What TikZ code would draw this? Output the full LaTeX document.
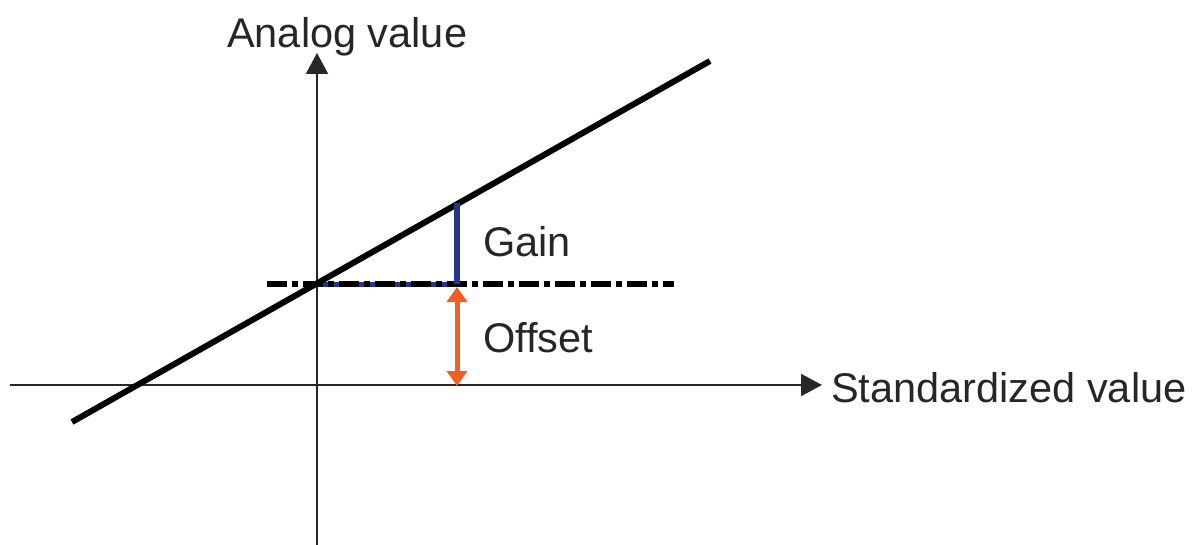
\documentclass[tikz,border=0pt]{standalone}
\usepackage{fontspec}
\setmainfont{Liberation Sans}
\usetikzlibrary{arrows.meta}
\definecolor{gainblue}{RGB}{35,55,145}
\definecolor{offorange}{RGB}{240,95,35}
\definecolor{axisgray}{RGB}{40,40,40}
\tikzset{
  lbl/.style={inner sep=0pt, anchor=base west, font=\fontsize{41.5}{50}\selectfont, text=black!85},
  axisline/.style={draw=axisgray, line width=2pt, -{Triangle[length=21pt,width=22pt]}},
}
\begin{document}
\begin{tikzpicture}[x=1pt,y=-1pt]
\useasboundingbox (0,0) rectangle (1193,545);
% coordinates
\coordinate (xs) at (10,385);
\coordinate (xe) at (822,385);
\coordinate (ys) at (317,545);
\coordinate (ye) at (317,53);
\coordinate (ls) at (72,422);
\coordinate (le) at (710,61);
\coordinate (ds) at (267,284);
\coordinate (de) at (674,284);
\coordinate (o) at (317,284);
\coordinate (g0) at (457,284);
\coordinate (g1) at (457,203);
\coordinate (f0) at (457,287);
\coordinate (f1) at (457,386);
% axes
\draw[axisline] (xs) -- (xe);
\draw[axisline] (ys) -- (ye);
% blue underlay along dash line
\draw[gainblue, line width=5pt] (o) -- (g0);
% dash-dot line
\draw[black, line width=6pt, dash pattern=on 20pt off 5pt on 6pt off 5pt] (ds) -- (de);
% sloped line
\draw[black, line width=6pt] (ls) -- (le);
% gain
\draw[gainblue, line width=6pt] (g0) -- (g1);
% offset
\draw[offorange, line width=5pt, {Triangle[length=15pt,width=20pt]}-{Triangle[length=15pt,width=20pt]}] (f0) -- (f1);
% labels
\node[lbl] (t1) at (227,48) {Analog value};
\node[lbl] (t2) at (483,257) {Gain};
\node[lbl] (t3) at (483,352) {Offset};
\node[lbl] (t4) at (831,402) {Standardized value};
\end{tikzpicture}
\end{document}
